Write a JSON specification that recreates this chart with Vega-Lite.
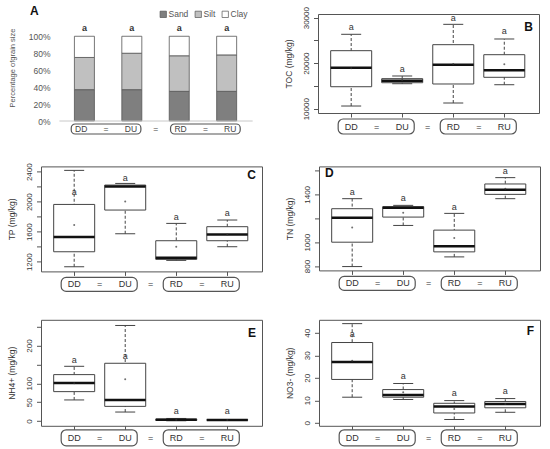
{
  "$schema": "https://vega.github.io/schema/vega-lite/v6.json",
  "padding": {"left": 7, "top": 5, "right": 2, "bottom": 2},
  "spacing": 26.4,
  "config": {
    "font": "Liberation Sans",
    "view": {"stroke": "#555", "strokeWidth": 1},
    "axis": {"grid": false, "labelFontSize": 8, "labelColor": "#333", "titleFontSize": 8.5, "titleFontWeight": "normal", "titleColor": "#333", "tickColor": "#555", "labelFont": "Liberation Sans", "titleFont": "Liberation Sans", "labelOverlap": false},
    "axisY": {"labelAngle": 270, "labelAlign": "center", "labelBaseline": "bottom", "tickSize": 4.5, "labelPadding": 3.5, "domain": false, "titlePadding": 8.5, "labelOverlap": false},
    "title": {"fontSize": 12, "fontWeight": "bold", "color": "#111", "font": "Liberation Sans"},
    "text": {"font": "Liberation Sans"}
  },
  "datasets": {
    "groups": [
      {"g": "DD", "i": 1, "site": "D"},
      {"g": "DU", "i": 2, "site": "D"},
      {"g": "RD", "i": 3, "site": "R"},
      {"g": "RU", "i": 4, "site": "R"}
    ],
    "grain": [
      {"g": "DD", "i": 1, "fraction": "Sand", "share": 0.37},
      {"g": "DD", "i": 1, "fraction": "Silt", "share": 0.38},
      {"g": "DD", "i": 1, "fraction": "Clay", "share": 0.25},
      {"g": "DU", "i": 2, "fraction": "Sand", "share": 0.37},
      {"g": "DU", "i": 2, "fraction": "Silt", "share": 0.43},
      {"g": "DU", "i": 2, "fraction": "Clay", "share": 0.20},
      {"g": "RD", "i": 3, "fraction": "Sand", "share": 0.35},
      {"g": "RD", "i": 3, "fraction": "Silt", "share": 0.42},
      {"g": "RD", "i": 3, "fraction": "Clay", "share": 0.23},
      {"g": "RU", "i": 4, "fraction": "Sand", "share": 0.35},
      {"g": "RU", "i": 4, "fraction": "Silt", "share": 0.43},
      {"g": "RU", "i": 4, "fraction": "Clay", "share": 0.22}
    ],
    "grain_sig": [
      {"g": "DD", "i": 1, "sig": "a", "sig_y": 1.1},
      {"g": "DU", "i": 2, "sig": "a", "sig_y": 1.1},
      {"g": "RD", "i": 3, "sig": "a", "sig_y": 1.1},
      {"g": "RU", "i": 4, "sig": "a", "sig_y": 1.1}
    ],
    "toc": [
      {"g": "DD", "i": 1, "lo": 10590, "q1": 14830, "med": 19010, "q3": 22750, "hi": 26350, "mean": 18900, "sig": "a", "sig_y": 27950},
      {"g": "DU", "i": 2, "lo": 15490, "q1": 15710, "med": 16150, "q3": 16600, "hi": 17190, "mean": 16300, "sig": "a", "sig_y": 18800},
      {"g": "RD", "i": 3, "lo": 11250, "q1": 15430, "med": 19670, "q3": 24070, "hi": 28540, "mean": 19820, "sig": "a", "sig_y": 29930},
      {"g": "RU", "i": 4, "lo": 15270, "q1": 16900, "med": 18440, "q3": 21870, "hi": 25320, "mean": 19760, "sig": "a", "sig_y": 27010}
    ],
    "tp": [
      {"g": "DD", "i": 1, "lo": 1133, "q1": 1333, "med": 1529, "q3": 1964, "hi": 2418, "mean": 1689, "sig": "a", "sig_y": 2124},
      {"g": "DU", "i": 2, "lo": 1573, "q1": 1889, "med": 2204, "q3": 2222, "hi": 2244, "mean": 2004, "sig": "a", "sig_y": 2320},
      {"g": "RD", "i": 3, "lo": 1218, "q1": 1231, "med": 1253, "q3": 1480, "hi": 1711, "mean": 1400, "sig": "a", "sig_y": 1796},
      {"g": "RU", "i": 4, "lo": 1400, "q1": 1480, "med": 1564, "q3": 1667, "hi": 1756, "mean": 1564, "sig": "a", "sig_y": 1844}
    ],
    "tn": [
      {"g": "DD", "i": 1, "lo": 796, "q1": 1000, "med": 1204, "q3": 1280, "hi": 1364, "mean": 1123, "sig": "a", "sig_y": 1422},
      {"g": "DU", "i": 2, "lo": 1140, "q1": 1210, "med": 1288, "q3": 1297, "hi": 1308, "mean": 1246, "sig": "a", "sig_y": 1366},
      {"g": "RD", "i": 3, "lo": 877, "q1": 919, "med": 966, "q3": 1101, "hi": 1241, "mean": 1034, "sig": "a", "sig_y": 1297},
      {"g": "RU", "i": 4, "lo": 1364, "q1": 1400, "med": 1439, "q3": 1487, "hi": 1540, "mean": 1448, "sig": "a", "sig_y": 1596}
    ],
    "nh4": [
      {"g": "DD", "i": 1, "lo": 56, "q1": 78, "med": 101, "q3": 123, "hi": 145, "mean": 100, "sig": "a", "sig_y": 161},
      {"g": "DU", "i": 2, "lo": 24, "q1": 39, "med": 56, "q3": 153, "hi": 253, "mean": 111, "sig": "a", "sig_y": 172},
      {"g": "RD", "i": 3, "lo": 0.9, "q1": 1.8, "med": 3.5, "q3": 5.3, "hi": 7, "mean": 3.5, "sig": "a", "sig_y": 28},
      {"g": "RU", "i": 4, "lo": 2, "q1": 2.5, "med": 3, "q3": 3.5, "hi": 4, "mean": 3, "sig": "a", "sig_y": 28}
    ],
    "no3": [
      {"g": "DD", "i": 1, "lo": 11.4, "q1": 19.3, "med": 27, "q3": 35.7, "hi": 44.1, "mean": 27.6, "sig": "a", "sig_y": 39.3},
      {"g": "DU", "i": 2, "lo": 10.4, "q1": 11.4, "med": 12.4, "q3": 14.8, "hi": 17.5, "mean": 13.6, "sig": "a", "sig_y": 20.7},
      {"g": "RD", "i": 3, "lo": 1.5, "q1": 4.4, "med": 7.3, "q3": 8.7, "hi": 9.9, "mean": 6.2, "sig": "a", "sig_y": 13.3},
      {"g": "RU", "i": 4, "lo": 4.7, "q1": 6.7, "med": 8.4, "q3": 9.5, "hi": 10.8, "mean": 8.4, "sig": "a", "sig_y": 14.2}
    ]
  },
  "vconcat": [
    {
      "spacing": 22,
      "hconcat": [
        {
          "bounds": "flush",
          "spacing": 3,
          "resolve": {"legend": {"color": "independent"}},
          "vconcat": [
            {
              "width": 221,
              "height": 107,
              "view": {"stroke": null},
              "title": {"text": "A", "anchor": "start", "dx": -11, "offset": -8, "frame": "group"},
              "layer": [
                {
                  "data": {"name": "grain"},
                  "transform": [{"calculate": "indexof(['Sand','Silt','Clay'], datum.fraction)", "as": "k"}],
                  "mark": {"type": "bar", "width": 20, "stroke": "#555", "strokeWidth": 0.8},
                  "encoding": {
                    "x": {"field": "i", "type": "quantitative", "scale": {"domain": [0.19, 4.64]}, "axis": null},
                    "y": {
                      "field": "share", "type": "quantitative", "stack": "zero",
                      "scale": {"domain": [0, 1.263]},
                      "axis": {"values": [0, 0.2, 0.4, 0.6, 0.8, 1], "tickCount": 20, "format": ".0%", "ticks": false, "domain": false, "labelOverlap": false, "labelAngle": 0, "labelAlign": "right", "labelBaseline": "middle", "labelPadding": -9, "labelFontSize": 8.5, "labelColor": "#555", "title": "Percentage ofgrain size", "titleFontSize": 7.5, "titleColor": "#555", "titlePadding": 12}
                    },
                    "color": {
                      "field": "fraction", "type": "nominal",
                      "scale": {"domain": ["Sand", "Silt", "Clay"], "range": ["#7f7f7f", "#c0c0c0", "#ffffff"]},
                      "legend": {"title": null, "orient": "none", "legendX": 118, "legendY": -4, "direction": "horizontal", "padding": 0, "symbolType": "square", "symbolSize": 40, "symbolStrokeColor": "#555", "symbolStrokeWidth": 0.7, "labelFontSize": 8.5, "labelColor": "#555", "labelOffset": 1, "columnPadding": 4}
                    },
                    "order": {"field": "k", "type": "quantitative"}
                  }
                },
                {
                  "data": {"name": "groups"},
                  "mark": {"type": "rule", "color": "#c8c8c8", "strokeWidth": 1, "xOffset": -25, "x2Offset": 26},
                  "encoding": {
                    "x": {"aggregate": "min", "field": "i", "type": "quantitative", "scale": {"domain": [0.19, 4.64]}, "axis": null},
                    "x2": {"aggregate": "max", "field": "i"},
                    "y": {"datum": 0, "type": "quantitative", "scale": {"domain": [0, 1.263]}}
                  }
                },
                {
                  "data": {"name": "grain_sig"},
                  "mark": {"type": "text", "fontSize": 9, "color": "#333", "fontWeight": "bold"},
                  "encoding": {
                    "x": {"field": "i", "type": "quantitative", "scale": {"domain": [0.19, 4.64]}, "axis": null},
                    "y": {"field": "sig_y", "type": "quantitative", "scale": {"domain": [0, 1.263]}},
                    "text": {"field": "sig"}
                  }
                }
              ]
            },
            {
              "width": 221,
              "height": 10,
              "view": {"stroke": null},
              "data": {"name": "groups"},
              "layer": [
                {
                  "mark": {"type": "rect", "fill": "white", "stroke": "#555", "strokeWidth": 1.2, "cornerRadius": 4, "xOffset": -10, "x2Offset": 10},
                  "encoding": {
                    "x": {"aggregate": "min", "field": "i", "type": "quantitative", "scale": {"domain": [0.19, 4.64]}, "axis": null},
                    "x2": {"aggregate": "max", "field": "i"},
                    "detail": {"field": "site"}
                  }
                },
                {
                  "mark": {"type": "text", "fontSize": 8.5, "color": "#444"},
                  "encoding": {
                    "x": {"field": "i", "type": "quantitative", "scale": {"domain": [0.19, 4.64]}, "axis": null},
                    "text": {"field": "g"}
                  }
                },
                {
                  "mark": {"type": "text", "fontSize": 8.5, "color": "#444"},
                  "encoding": {
                    "x": {"aggregate": "mean", "field": "i", "type": "quantitative", "scale": {"domain": [0.19, 4.64]}, "axis": null},
                    "detail": {"field": "site"},
                    "text": {"value": "="}
                  }
                },
                {
                  "mark": {"type": "text", "fontSize": 8.5, "color": "#444"},
                  "encoding": {
                    "x": {"aggregate": "mean", "field": "i", "type": "quantitative", "scale": {"domain": [0.19, 4.64]}, "axis": null},
                    "text": {"value": "="}
                  }
                }
              ]
            }
          ]
        },
        {
          "bounds": "flush",
          "spacing": 6,
          "vconcat": [
            {
              "width": 221,
              "height": 99,
              "data": {"name": "toc"},
              "title": {"text": "B", "anchor": "end", "dx": -6, "offset": -27, "frame": "group"},
              "encoding": {
                "x": {"field": "i", "type": "quantitative", "scale": {"domain": [0.35, 4.68]}, "axis": {"values": [1, 2, 3, 4], "tickCount": 20, "labels": false, "domain": false, "tickSize": 4, "title": null}}
              },
              "layer": [
                {"mark": {"type": "rule", "strokeDash": [3, 2], "color": "#444"}, "encoding": {"y": {"field": "lo", "type": "quantitative", "scale": {"domain": [9055, 30813]}, "axis": {"values": [10000, 15000, 20000, 25000, 30000], "tickCount": 20, "format": "d", "labelOverlap": false, "labelExpr": "datum.value % 10000 == 0 ? datum.label : ''", "title": "TOC (mg/kg)"}}, "y2": {"field": "hi"}}},
                {"mark": {"type": "rule", "color": "#444", "xOffset": -10, "x2Offset": 10}, "encoding": {"x2": {"field": "i"}, "y": {"field": "lo", "type": "quantitative", "scale": {"domain": [9055, 30813]}}}},
                {"mark": {"type": "rule", "color": "#444", "xOffset": -10, "x2Offset": 10}, "encoding": {"x2": {"field": "i"}, "y": {"field": "hi", "type": "quantitative", "scale": {"domain": [9055, 30813]}}}},
                {"mark": {"type": "rect", "fill": "white", "stroke": "#444", "strokeWidth": 1, "xOffset": -20.5, "x2Offset": 20.5}, "encoding": {"x2": {"field": "i"}, "y": {"field": "q1", "type": "quantitative", "scale": {"domain": [9055, 30813]}}, "y2": {"field": "q3"}}},
                {"mark": {"type": "rule", "color": "#111", "strokeWidth": 2.5, "xOffset": -20.5, "x2Offset": 20.5}, "encoding": {"x2": {"field": "i"}, "y": {"field": "med", "type": "quantitative", "scale": {"domain": [9055, 30813]}}}},
                {"mark": {"type": "point", "filled": true, "size": 4, "color": "#333"}, "encoding": {"y": {"field": "mean", "type": "quantitative", "scale": {"domain": [9055, 30813]}}}},
                {"mark": {"type": "text", "fontSize": 9, "color": "#333"}, "encoding": {"y": {"field": "sig_y", "type": "quantitative", "scale": {"domain": [9055, 30813]}}, "text": {"field": "sig"}}}
              ]
            },
            {
              "width": 221,
              "height": 15,
              "view": {"stroke": null},
              "data": {"name": "groups"},
              "layer": [
                {"mark": {"type": "rect", "fill": "white", "stroke": "#555", "strokeWidth": 1.2, "cornerRadius": 5, "xOffset": -13, "x2Offset": 12}, "encoding": {"x": {"aggregate": "min", "field": "i", "type": "quantitative", "scale": {"domain": [0.35, 4.68]}, "axis": null}, "x2": {"aggregate": "max", "field": "i"}, "detail": {"field": "site"}}},
                {"mark": {"type": "text", "fontSize": 9, "color": "#333"}, "encoding": {"x": {"field": "i", "type": "quantitative", "scale": {"domain": [0.35, 4.68]}, "axis": null}, "text": {"field": "g"}}},
                {"mark": {"type": "text", "fontSize": 9, "color": "#333"}, "encoding": {"x": {"aggregate": "mean", "field": "i", "type": "quantitative", "scale": {"domain": [0.35, 4.68]}, "axis": null}, "detail": {"field": "site"}, "text": {"value": "="}}},
                {"mark": {"type": "text", "fontSize": 9, "color": "#333"}, "encoding": {"x": {"aggregate": "mean", "field": "i", "type": "quantitative", "scale": {"domain": [0.35, 4.68]}, "axis": null}, "text": {"value": "="}}}
              ]
            }
          ]
        }
      ]
    },
    {
      "spacing": 22,
      "hconcat": [
        {
          "bounds": "flush",
          "spacing": 6,
          "vconcat": [
            {
              "width": 221,
              "height": 105,
              "data": {"name": "tp"},
              "title": {"text": "C", "anchor": "end", "dx": -6, "offset": -19, "frame": "group"},
              "encoding": {
                "x": {"field": "i", "type": "quantitative", "scale": {"domain": [0.35, 4.68]}, "axis": {"values": [1, 2, 3, 4], "tickCount": 20, "labels": false, "domain": false, "tickSize": 4, "title": null}}
              },
              "layer": [
                {"mark": {"type": "rule", "strokeDash": [3, 2], "color": "#444"}, "encoding": {"y": {"field": "lo", "type": "quantitative", "scale": {"domain": [1071, 2471]}, "axis": {"values": [1200, 1400, 1600, 1800, 2000, 2200, 2400], "tickCount": 20, "format": "d", "labelOverlap": false, "labelExpr": "datum.value % 400 == 0 ? datum.label : ''", "title": "TP (mg/kg)"}}, "y2": {"field": "hi"}}},
                {"mark": {"type": "rule", "color": "#444", "xOffset": -10, "x2Offset": 10}, "encoding": {"x2": {"field": "i"}, "y": {"field": "lo", "type": "quantitative", "scale": {"domain": [1071, 2471]}}}},
                {"mark": {"type": "rule", "color": "#444", "xOffset": -10, "x2Offset": 10}, "encoding": {"x2": {"field": "i"}, "y": {"field": "hi", "type": "quantitative", "scale": {"domain": [1071, 2471]}}}},
                {"mark": {"type": "rect", "fill": "white", "stroke": "#444", "strokeWidth": 1, "xOffset": -20.5, "x2Offset": 20.5}, "encoding": {"x2": {"field": "i"}, "y": {"field": "q1", "type": "quantitative", "scale": {"domain": [1071, 2471]}}, "y2": {"field": "q3"}}},
                {"mark": {"type": "rule", "color": "#111", "strokeWidth": 2.5, "xOffset": -20.5, "x2Offset": 20.5}, "encoding": {"x2": {"field": "i"}, "y": {"field": "med", "type": "quantitative", "scale": {"domain": [1071, 2471]}}}},
                {"mark": {"type": "point", "filled": true, "size": 4, "color": "#333"}, "encoding": {"y": {"field": "mean", "type": "quantitative", "scale": {"domain": [1071, 2471]}}}},
                {"mark": {"type": "text", "fontSize": 9, "color": "#333"}, "encoding": {"y": {"field": "sig_y", "type": "quantitative", "scale": {"domain": [1071, 2471]}}, "text": {"field": "sig"}}}
              ]
            },
            {
              "width": 221,
              "height": 14,
              "view": {"stroke": null},
              "data": {"name": "groups"},
              "layer": [
                {"mark": {"type": "rect", "fill": "white", "stroke": "#555", "strokeWidth": 1.2, "cornerRadius": 5, "xOffset": -13, "x2Offset": 12}, "encoding": {"x": {"aggregate": "min", "field": "i", "type": "quantitative", "scale": {"domain": [0.35, 4.68]}, "axis": null}, "x2": {"aggregate": "max", "field": "i"}, "detail": {"field": "site"}}},
                {"mark": {"type": "text", "fontSize": 9, "color": "#333"}, "encoding": {"x": {"field": "i", "type": "quantitative", "scale": {"domain": [0.35, 4.68]}, "axis": null}, "text": {"field": "g"}}},
                {"mark": {"type": "text", "fontSize": 9, "color": "#333"}, "encoding": {"x": {"aggregate": "mean", "field": "i", "type": "quantitative", "scale": {"domain": [0.35, 4.68]}, "axis": null}, "detail": {"field": "site"}, "text": {"value": "="}}},
                {"mark": {"type": "text", "fontSize": 9, "color": "#333"}, "encoding": {"x": {"aggregate": "mean", "field": "i", "type": "quantitative", "scale": {"domain": [0.35, 4.68]}, "axis": null}, "text": {"value": "="}}}
              ]
            }
          ]
        },
        {
          "bounds": "flush",
          "spacing": 6,
          "vconcat": [
            {
              "width": 221,
              "height": 104,
              "data": {"name": "tn"},
              "title": {"text": "D", "anchor": "start", "dx": 6, "offset": -14, "frame": "group"},
              "encoding": {
                "x": {"field": "i", "type": "quantitative", "scale": {"domain": [0.35, 4.68]}, "axis": {"values": [1, 2, 3, 4], "tickCount": 20, "labels": false, "domain": false, "tickSize": 4, "title": null}}
              },
              "layer": [
                {"mark": {"type": "rule", "strokeDash": [3, 2], "color": "#444"}, "encoding": {"y": {"field": "lo", "type": "quantitative", "scale": {"domain": [764, 1634]}, "axis": {"values": [800, 1000, 1200, 1400, 1600], "tickCount": 20, "format": "d", "labelOverlap": false, "labelExpr": "indexof([800, 1000, 1400], datum.value) >= 0 ? datum.label : ''", "title": "TN (mg/kg)"}}, "y2": {"field": "hi"}}},
                {"mark": {"type": "rule", "color": "#444", "xOffset": -10, "x2Offset": 10}, "encoding": {"x2": {"field": "i"}, "y": {"field": "lo", "type": "quantitative", "scale": {"domain": [764, 1634]}}}},
                {"mark": {"type": "rule", "color": "#444", "xOffset": -10, "x2Offset": 10}, "encoding": {"x2": {"field": "i"}, "y": {"field": "hi", "type": "quantitative", "scale": {"domain": [764, 1634]}}}},
                {"mark": {"type": "rect", "fill": "white", "stroke": "#444", "strokeWidth": 1, "xOffset": -20.5, "x2Offset": 20.5}, "encoding": {"x2": {"field": "i"}, "y": {"field": "q1", "type": "quantitative", "scale": {"domain": [764, 1634]}}, "y2": {"field": "q3"}}},
                {"mark": {"type": "rule", "color": "#111", "strokeWidth": 2.5, "xOffset": -20.5, "x2Offset": 20.5}, "encoding": {"x2": {"field": "i"}, "y": {"field": "med", "type": "quantitative", "scale": {"domain": [764, 1634]}}}},
                {"mark": {"type": "point", "filled": true, "size": 4, "color": "#333"}, "encoding": {"y": {"field": "mean", "type": "quantitative", "scale": {"domain": [764, 1634]}}}},
                {"mark": {"type": "text", "fontSize": 9, "color": "#333"}, "encoding": {"y": {"field": "sig_y", "type": "quantitative", "scale": {"domain": [764, 1634]}}, "text": {"field": "sig"}}}
              ]
            },
            {
              "width": 221,
              "height": 14,
              "view": {"stroke": null},
              "data": {"name": "groups"},
              "layer": [
                {"mark": {"type": "rect", "fill": "white", "stroke": "#555", "strokeWidth": 1.2, "cornerRadius": 5, "xOffset": -13, "x2Offset": 12}, "encoding": {"x": {"aggregate": "min", "field": "i", "type": "quantitative", "scale": {"domain": [0.35, 4.68]}, "axis": null}, "x2": {"aggregate": "max", "field": "i"}, "detail": {"field": "site"}}},
                {"mark": {"type": "text", "fontSize": 9, "color": "#333"}, "encoding": {"x": {"field": "i", "type": "quantitative", "scale": {"domain": [0.35, 4.68]}, "axis": null}, "text": {"field": "g"}}},
                {"mark": {"type": "text", "fontSize": 9, "color": "#333"}, "encoding": {"x": {"aggregate": "mean", "field": "i", "type": "quantitative", "scale": {"domain": [0.35, 4.68]}, "axis": null}, "detail": {"field": "site"}, "text": {"value": "="}}},
                {"mark": {"type": "text", "fontSize": 9, "color": "#333"}, "encoding": {"x": {"aggregate": "mean", "field": "i", "type": "quantitative", "scale": {"domain": [0.35, 4.68]}, "axis": null}, "text": {"value": "="}}}
              ]
            }
          ]
        }
      ]
    },
    {
      "spacing": 22,
      "hconcat": [
        {
          "bounds": "flush",
          "spacing": 4,
          "vconcat": [
            {
              "width": 221,
              "height": 106,
              "data": {"name": "nh4"},
              "title": {"text": "E", "anchor": "end", "dx": -6, "offset": -20, "frame": "group"},
              "encoding": {
                "x": {"field": "i", "type": "quantitative", "scale": {"domain": [0.35, 4.68]}, "axis": {"values": [1, 2, 3, 4], "tickCount": 20, "labels": false, "domain": false, "tickSize": 4, "title": null}}
              },
              "layer": [
                {"mark": {"type": "rule", "strokeDash": [3, 2], "color": "#444"}, "encoding": {"y": {"field": "lo", "type": "quantitative", "scale": {"domain": [-12.4, 268]}, "axis": {"values": [0, 50, 100, 150, 200, 250], "tickCount": 20, "format": "d", "labelOverlap": false, "labelExpr": "indexof([0, 50, 100, 200], datum.value) >= 0 ? datum.label : ''", "title": "NH4+ (mg/kg)"}}, "y2": {"field": "hi"}}},
                {"mark": {"type": "rule", "color": "#444", "xOffset": -10, "x2Offset": 10}, "encoding": {"x2": {"field": "i"}, "y": {"field": "lo", "type": "quantitative", "scale": {"domain": [-12.4, 268]}}}},
                {"mark": {"type": "rule", "color": "#444", "xOffset": -10, "x2Offset": 10}, "encoding": {"x2": {"field": "i"}, "y": {"field": "hi", "type": "quantitative", "scale": {"domain": [-12.4, 268]}}}},
                {"mark": {"type": "rect", "fill": "white", "stroke": "#444", "strokeWidth": 1, "xOffset": -20.5, "x2Offset": 20.5}, "encoding": {"x2": {"field": "i"}, "y": {"field": "q1", "type": "quantitative", "scale": {"domain": [-12.4, 268]}}, "y2": {"field": "q3"}}},
                {"mark": {"type": "rule", "color": "#111", "strokeWidth": 2.5, "xOffset": -20.5, "x2Offset": 20.5}, "encoding": {"x2": {"field": "i"}, "y": {"field": "med", "type": "quantitative", "scale": {"domain": [-12.4, 268]}}}},
                {"mark": {"type": "point", "filled": true, "size": 4, "color": "#333"}, "encoding": {"y": {"field": "mean", "type": "quantitative", "scale": {"domain": [-12.4, 268]}}}},
                {"mark": {"type": "text", "fontSize": 9, "color": "#333"}, "encoding": {"y": {"field": "sig_y", "type": "quantitative", "scale": {"domain": [-12.4, 268]}}, "text": {"field": "sig"}}}
              ]
            },
            {
              "width": 221,
              "height": 16,
              "view": {"stroke": null},
              "data": {"name": "groups"},
              "layer": [
                {"mark": {"type": "rect", "fill": "white", "stroke": "#555", "strokeWidth": 1.2, "cornerRadius": 5, "xOffset": -13, "x2Offset": 12}, "encoding": {"x": {"aggregate": "min", "field": "i", "type": "quantitative", "scale": {"domain": [0.35, 4.68]}, "axis": null}, "x2": {"aggregate": "max", "field": "i"}, "detail": {"field": "site"}}},
                {"mark": {"type": "text", "fontSize": 9, "color": "#333"}, "encoding": {"x": {"field": "i", "type": "quantitative", "scale": {"domain": [0.35, 4.68]}, "axis": null}, "text": {"field": "g"}}},
                {"mark": {"type": "text", "fontSize": 9, "color": "#333"}, "encoding": {"x": {"aggregate": "mean", "field": "i", "type": "quantitative", "scale": {"domain": [0.35, 4.68]}, "axis": null}, "detail": {"field": "site"}, "text": {"value": "="}}},
                {"mark": {"type": "text", "fontSize": 9, "color": "#333"}, "encoding": {"x": {"aggregate": "mean", "field": "i", "type": "quantitative", "scale": {"domain": [0.35, 4.68]}, "axis": null}, "text": {"value": "="}}}
              ]
            }
          ]
        },
        {
          "bounds": "flush",
          "spacing": 4,
          "vconcat": [
            {
              "width": 221,
              "height": 106,
              "data": {"name": "no3"},
              "title": {"text": "F", "anchor": "end", "dx": -6, "offset": -18.5, "frame": "group"},
              "encoding": {
                "x": {"field": "i", "type": "quantitative", "scale": {"domain": [0.35, 4.68]}, "axis": {"values": [1, 2, 3, 4], "tickCount": 20, "labels": false, "domain": false, "tickSize": 4, "title": null}}
              },
              "layer": [
                {"mark": {"type": "rule", "strokeDash": [3, 2], "color": "#444"}, "encoding": {"y": {"field": "lo", "type": "quantitative", "scale": {"domain": [-1.3, 45.8]}, "axis": {"values": [0, 10, 20, 30, 40], "tickCount": 20, "format": "d", "labelOverlap": false, "title": "NO3- (mg/kg)"}}, "y2": {"field": "hi"}}},
                {"mark": {"type": "rule", "color": "#444", "xOffset": -10, "x2Offset": 10}, "encoding": {"x2": {"field": "i"}, "y": {"field": "lo", "type": "quantitative", "scale": {"domain": [-1.3, 45.8]}}}},
                {"mark": {"type": "rule", "color": "#444", "xOffset": -10, "x2Offset": 10}, "encoding": {"x2": {"field": "i"}, "y": {"field": "hi", "type": "quantitative", "scale": {"domain": [-1.3, 45.8]}}}},
                {"mark": {"type": "rect", "fill": "white", "stroke": "#444", "strokeWidth": 1, "xOffset": -20.5, "x2Offset": 20.5}, "encoding": {"x2": {"field": "i"}, "y": {"field": "q1", "type": "quantitative", "scale": {"domain": [-1.3, 45.8]}}, "y2": {"field": "q3"}}},
                {"mark": {"type": "rule", "color": "#111", "strokeWidth": 2.5, "xOffset": -20.5, "x2Offset": 20.5}, "encoding": {"x2": {"field": "i"}, "y": {"field": "med", "type": "quantitative", "scale": {"domain": [-1.3, 45.8]}}}},
                {"mark": {"type": "point", "filled": true, "size": 4, "color": "#333"}, "encoding": {"y": {"field": "mean", "type": "quantitative", "scale": {"domain": [-1.3, 45.8]}}}},
                {"mark": {"type": "text", "fontSize": 9, "color": "#333"}, "encoding": {"y": {"field": "sig_y", "type": "quantitative", "scale": {"domain": [-1.3, 45.8]}}, "text": {"field": "sig"}}}
              ]
            },
            {
              "width": 221,
              "height": 16,
              "view": {"stroke": null},
              "data": {"name": "groups"},
              "layer": [
                {"mark": {"type": "rect", "fill": "white", "stroke": "#555", "strokeWidth": 1.2, "cornerRadius": 5, "xOffset": -13, "x2Offset": 12}, "encoding": {"x": {"aggregate": "min", "field": "i", "type": "quantitative", "scale": {"domain": [0.35, 4.68]}, "axis": null}, "x2": {"aggregate": "max", "field": "i"}, "detail": {"field": "site"}}},
                {"mark": {"type": "text", "fontSize": 9, "color": "#333"}, "encoding": {"x": {"field": "i", "type": "quantitative", "scale": {"domain": [0.35, 4.68]}, "axis": null}, "text": {"field": "g"}}},
                {"mark": {"type": "text", "fontSize": 9, "color": "#333"}, "encoding": {"x": {"aggregate": "mean", "field": "i", "type": "quantitative", "scale": {"domain": [0.35, 4.68]}, "axis": null}, "detail": {"field": "site"}, "text": {"value": "="}}},
                {"mark": {"type": "text", "fontSize": 9, "color": "#333"}, "encoding": {"x": {"aggregate": "mean", "field": "i", "type": "quantitative", "scale": {"domain": [0.35, 4.68]}, "axis": null}, "text": {"value": "="}}}
              ]
            }
          ]
        }
      ]
    }
  ]
}
